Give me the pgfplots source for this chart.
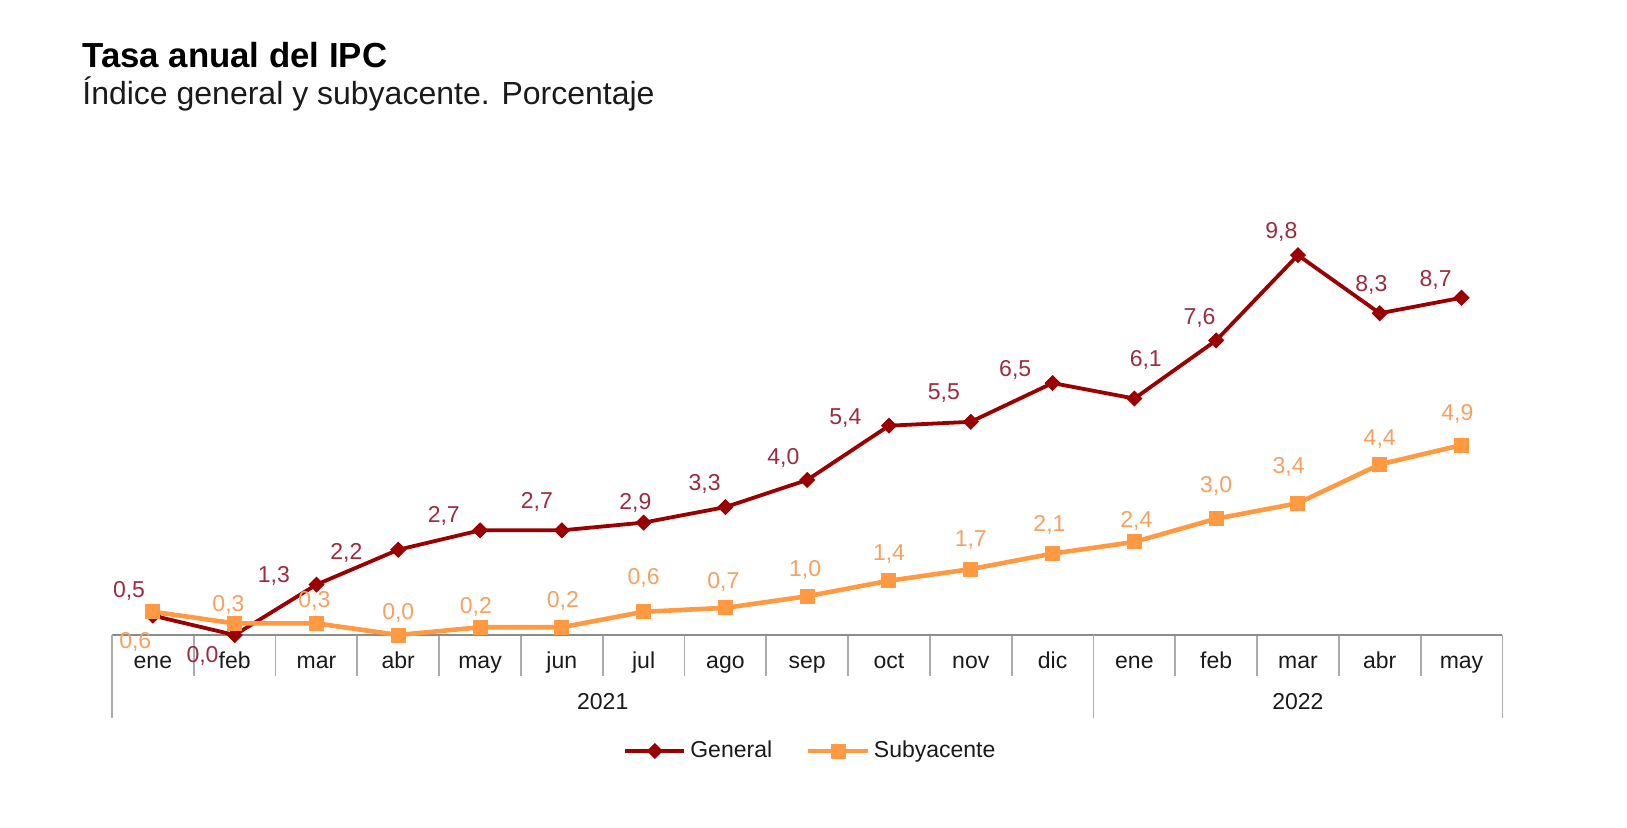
\documentclass[border=0pt]{standalone}
\usepackage{pgfplots}
\pgfplotsset{compat=1.18}
\usepackage{pgfplotstable}
\usepackage{fontspec}
\setmainfont{Liberation Sans}
\definecolor{gen}{HTML}{9A0000}
\definecolor{sub}{HTML}{FF9A42}
\definecolor{genlab}{HTML}{9E2A40}
\definecolor{sublab}{HTML}{F7A060}
\definecolor{axisgray}{HTML}{8C8C8C}
\definecolor{sepgray}{HTML}{ABABAB}
\definecolor{txt}{HTML}{1A1A1A}

\pgfplotstableread{
x y lab dx dy
0 0.5 0,5 -23 24
1 0.0 0,0 -31 -20
2 1.3 1,3 -41 8
3 2.2 2,2 -50 -3
4 2.7 2,7 -35 14
5 2.7 2,7 -24 27
6 2.9 2,9 -8 19
7 3.3 3,3 -20 22
8 4.0 4,0 -23 21
9 5.4 5,4 -42 7
10 5.5 5,5 -26 28
11 6.5 6,5 -36 13
12 6.1 6,1 11 37
13 7.6 7,6 -16 22
14 9.8 9,8 -16 22
15 8.3 8,3 -8 27
16 8.7 8,7 -25 17
}\gentab

\pgfplotstableread{
x y lab dx dy
0 0.6 0,6 -17 -29
1 0.3 0,3 -6 18
2 0.3 0,3 -2 22
3 0.0 0,0 0 21
4 0.2 0,2 -4 20
5 0.2 0,2 1 25
6 0.6 0,6 0 33
7 0.7 0,7 -2 25
8 1.0 1,0 -2 25
9 1.4 1,4 0 26
10 1.7 1,7 0 28
11 2.1 2,1 -3 28
12 2.4 2,4 2 20
13 3.0 3,0 0 32
14 3.4 3,4 -9 35
15 4.4 4,4 0 24
16 4.9 4,9 -4 30
}\subtab

\begin{document}
\begin{tikzpicture}
\path[use as bounding box] (0pt,0pt) rectangle (813.5pt,-414pt);
\node[anchor=base west, inner sep=0pt, font=\bfseries\fontsize{17.4}{20}\selectfont, text=black] at (41pt,-33.7pt) {Tasa anual del IPC};
\node[anchor=base west, inner sep=0pt, font=\fontsize{16}{19}\selectfont, text=txt] at (41pt,-52.4pt) {Índice general y subyacente. Porcentaje};
\begin{axis}[
  at={(56pt,-317.5pt)}, anchor=south west,
  width=695.2pt, height=203.5pt, scale only axis,
  xmin=-0.5, xmax=16.5, ymin=0, ymax=10.5,
  clip=false,
  axis y line=none,
  axis x line*=bottom,
  x axis line style={draw=axisgray, line width=1.1pt, -},
  tick align=outside,
  xtick={0,...,16},
  xticklabels={ene,feb,mar,abr,may,jun,jul,ago,sep,oct,nov,dic,ene,feb,mar,abr,may},
  major tick length=0pt,
  minor xtick={-0.5,0.5,...,16.5},
  minor tick length=20.7pt,
  tick style={draw=sepgray, line width=0.9pt},
  extra x ticks={-0.5,11.5,16.5},
  extra x tick labels={},
  extra x tick style={major tick length=41.5pt},
  xticklabel style={anchor=base, yshift=-16.5pt, font=\fontsize{11.5}{14}\selectfont, text=txt},
  legend style={at={(0.503,-0.285)}, anchor=center, draw=none, fill=none,
    legend columns=2, font=\fontsize{11.5}{14}\selectfont, text=txt,
    /tikz/every even column/.append style={column sep=15pt},
    inner sep=0pt},
  legend image code/.code={\draw[mark repeat=2,mark phase=2] plot coordinates {(0pt,0pt)(14.8pt,0pt)(29.6pt,0pt)};},
]
\addplot[gen, line width=1.9pt, mark=square*, mark size=2.6pt,
  mark options={rotate=45, solid, line width=0.5pt},
  nodes near coords, point meta=explicit symbolic,
  visualization depends on={\thisrow{dx} \as \labdx},
  visualization depends on={\thisrow{dy} \as \labdy},
  every node near coord/.append style={anchor=center, inner sep=0pt,
    xshift=\labdx*0.5188pt, yshift=\labdy*0.5188pt, text=genlab,
    font=\fontsize{11.5}{14}\selectfont}
] table[x=x, y=y, meta=lab] {\gentab};
\addlegendentry{General}
\addplot[sub, line width=2.3pt, mark=square*, mark size=3.5pt,
  mark options={solid, line width=0.5pt},
  nodes near coords, point meta=explicit symbolic,
  visualization depends on={\thisrow{dx} \as \labdx},
  visualization depends on={\thisrow{dy} \as \labdy},
  every node near coord/.append style={anchor=center, inner sep=0pt,
    xshift=\labdx*0.5188pt, yshift=\labdy*0.5188pt, text=sublab,
    font=\fontsize{11.5}{14}\selectfont}
] table[x=x, y=y, meta=lab] {\subtab};
\addlegendentry{Subyacente}
\node[anchor=base, font=\fontsize{11.5}{14}\selectfont, text=txt] at (axis cs:5.5,0) [yshift=-37.3pt] {2021};
\node[anchor=base, font=\fontsize{11.5}{14}\selectfont, text=txt] at (axis cs:14,0) [yshift=-37.3pt] {2022};
\end{axis}
\end{tikzpicture}
\end{document}
